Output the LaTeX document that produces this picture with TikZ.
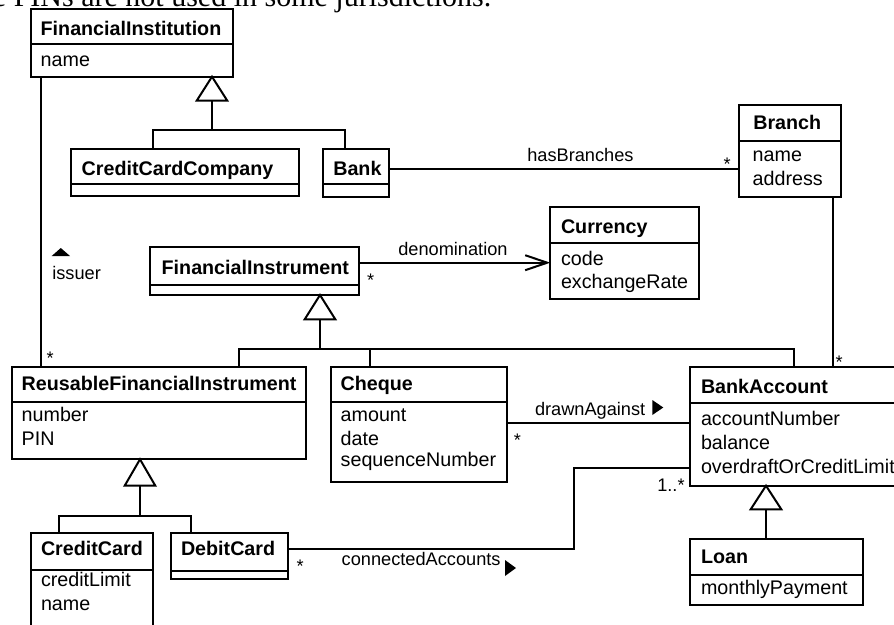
\documentclass[tikz,border=0pt]{standalone}
\usepackage{fontspec}
\setmainfont{Liberation Sans}
\newfontfamily\notefont{Liberation Serif}
\usetikzlibrary{arrows.meta}

% class box: name, left, top, right, bottom, y of the compartment divider
\newcommand\classbox[6]{%
  \node[cls, minimum width={#4-#2}, minimum height={#5-#3}] (#1) at (#2,#3) {};
  \draw (#1.west |- 0,#6) -- (#1.east |- 0,#6);
}

\begin{document}
\begin{tikzpicture}[x=1pt,y=-1pt,
  line width=2pt,
  cls/.style={draw, line width=2pt, rectangle, inner sep=0pt, outer sep=0pt, anchor=north west},
  lbl/.style={anchor=base west, inner sep=0pt, outer sep=0pt, font=\fontsize{19.7pt}{23pt}\selectfont},
  ttl/.style={lbl, font=\fontsize{19.7pt}{23pt}\selectfont\bfseries},
  asc/.style={lbl, font=\fontsize{18.2pt}{21pt}\selectfont},
  gen/.style={draw, fill=white, line width=2pt, line join=miter},
  dirtri/.style={fill=black, draw=none},
]
\useasboundingbox (0,0) rectangle (894,624);

% running text above the diagram
\node[anchor=base west, inner sep=0pt, font=\notefont\fontsize{30pt}{33pt}\selectfont] (note) at (-8,6.5) {e PINs are not used in some jurisdictions.};

% classes
\classbox{fi}{30.7}{9.3}{232.7}{76.7}{44.3}
\classbox{ccc}{71}{149.3}{299}{196}{184}
\classbox{bank}{322.7}{149.3}{389.3}{196.5}{184.3}
\classbox{branch}{738.7}{105}{840.7}{196.7}{141}
\classbox{cur}{550.3}{206.7}{698.7}{299}{242.7}
\classbox{finst}{150.3}{246.7}{359}{295}{285.3}
\classbox{rfi}{11.7}{366.7}{306}{459.3}{402.3}
\classbox{cheque}{330.7}{367.3}{506.7}{481.7}{401.5}
\classbox{ba}{690}{367.3}{906}{485.7}{402.7}
\classbox{cc}{30.7}{533.3}{152.7}{640}{570}
\classbox{debit}{170.7}{533.3}{288.3}{579.3}{570.7}
\classbox{loan}{690}{539.3}{862.7}{605}{575.3}

% class names and attributes
\node[ttl] (tFi) at (40.7,35.3) {FinancialInstitution};
\node[lbl] (aFi1) at (40.7,66.7) {name};
\node[ttl] (tCcc) at (81.7,175.7) {CreditCardCompany};
\node[ttl] (tBank) at (333.3,175.7) {Bank};
\node[ttl] (tBranch) at (753.3,129) {Branch};
\node[lbl] (aBranch1) at (752.7,161.7) {name};
\node[lbl] (aBranch2) at (752.7,185) {address};
\node[ttl] (tCur) at (561,233) {Currency};
\node[lbl] (aCur1) at (561,265.7) {code};
\node[lbl] (aCur2) at (561,288.3) {exchangeRate};
\node[ttl] (tFinst) at (161.7,274) {FinancialInstrument};
\node[ttl] (tRfi) at (21.7,390) {ReusableFinancialInstrument};
\node[lbl] (aRfi1) at (21.7,421) {number};
\node[lbl] (aRfi2) at (21.7,445) {PIN};
\node[ttl] (tCheque) at (340.7,390) {Cheque};
\node[lbl] (aCheque1) at (340.7,421) {amount};
\node[lbl] (aCheque2) at (340.7,445) {date};
\node[lbl] (aCheque3) at (340.7,466.7) {sequenceNumber};
\node[ttl] (tBa) at (701,393.3) {BankAccount};
\node[lbl] (aBa1) at (701,425.5) {accountNumber};
\node[lbl] (aBa2) at (701,449.3) {balance};
\node[lbl] (aBa3) at (701,473.3) {overdraftOrCreditLimit};
\node[ttl] (tCc) at (41,555) {CreditCard};
\node[lbl] (aCc1) at (41,586.7) {creditLimit};
\node[lbl] (aCc2) at (41,610) {name};
\node[ttl] (tDebit) at (181,555) {DebitCard};
\node[ttl] (tLoan) at (701,563.3) {Loan};
\node[lbl] (aLoan1) at (701,594.3) {monthlyPayment};

% generalization: FinancialInstitution
\draw (152.7,0 |- ccc.north) -- (152.7,130) -- (344.7,130) -- (344.7,0 |- bank.north);
\draw (212,130) -- (212,100.7);
\draw[gen] (212,0 |- fi.south) -- (196.7,100.7) -- (227.3,100.7) -- cycle;

% issuer
\draw (40.7,0 |- fi.south) -- (40.7,0 |- rfi.north);
\fill[dirtri] (51.7,256) -- (60.8,248) -- (70,256) -- cycle;
\node[asc] (lIssuer) at (52.3,279) {issuer};
\node[asc] (mIssuer) at (46.5,364.3) {*};

% hasBranches
\draw (bank.east |- 0,169) -- (branch.west |- 0,169);
\node[asc] (lHasBranches) at (527.3,161.7) {hasBranches};
\node[asc] (mHasBranches) at (723.5,170) {*};

% Branch -- BankAccount
\draw (832.7,0 |- branch.south) -- (832.7,0 |- ba.north);
\node[asc] (mBranchBa) at (835.5,368) {*};

% denomination
\draw[-{Straight Barb[length=22pt,width=15pt]}] (finst.east |- 0,262.7) -- (cur.west |- 0,262.7);
\node[asc] (lDenom) at (398.3,255) {denomination};
\node[asc] (mDenom) at (367.2,286) {*};

% generalization: FinancialInstrument
\draw (238.7,0 |- rfi.north) -- (238.7,349) -- (794.3,349) -- (794.3,0 |- ba.north);
\draw (370.3,349) -- (370.3,0 |- cheque.north);
\draw (320,349) -- (320,319.3);
\draw[gen] (320,0 |- finst.south) -- (304.7,319.3) -- (335.3,319.3) -- cycle;

% drawnAgainst
\draw (cheque.east |- 0,422.7) -- (ba.west |- 0,422.7);
\node[asc] (lDrawn) at (535,415) {drawnAgainst};
\fill[dirtri] (652.3,400) -- (663.3,407.5) -- (652.3,415) -- cycle;
\node[asc] (mDrawn) at (513.8,446) {*};

% connectedAccounts
\draw (debit.east |- 0,549) -- (574.3,549) -- (574.3,467.7) -- (ba.west |- 0,467.7);
\node[asc] (lConn) at (341.7,565.7) {connectedAccounts};
\fill[dirtri] (505,560) -- (516,568) -- (505,576) -- cycle;
\node[asc] (mConnDebit) at (296.5,572.7) {*};
\node[asc] (mConnBa) at (657.3,491.7) {1..*};

% generalization: ReusableFinancialInstrument
\draw (58.7,0 |- cc.north) -- (58.7,516) -- (190.7,516) -- (190.7,0 |- debit.north);
\draw (140,516) -- (140,485.7);
\draw[gen] (140,0 |- rfi.south) -- (124.7,485.7) -- (155.3,485.7) -- cycle;

% generalization: BankAccount
\draw (766,509.3) -- (766,0 |- loan.north);
\draw[gen] (766,0 |- ba.south) -- (750.7,509.3) -- (781.3,509.3) -- cycle;
\end{tikzpicture}
\end{document}
